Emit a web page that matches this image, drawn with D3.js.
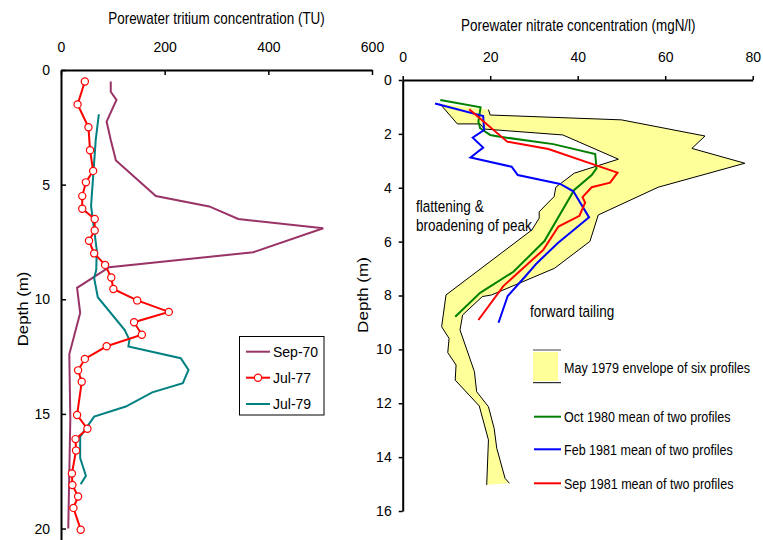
<!DOCTYPE html>
<html><head><meta charset="utf-8">
<script src="https://cdn.jsdelivr.net/npm/d3@7"></script>
<style>
body{margin:0;background:#fff;}
text{font-family:"Liberation Sans",Arial,sans-serif;fill:#000;}
</style></head>
<body>
<svg id="c" width="763" height="540"></svg>
<script>
// ---------- Left panel data: tritium (TU) vs depth (m) ----------
const tritiumTicks = [0, 200, 400, 600];
const depthTicksLeft = [0, 5, 10, 15, 20];
const sep70Depth = [0.5, 0.95, 1.3, 2.25, 3.05, 3.95, 5.5, 5.95, 6.5, 6.9, 7.95, 8.6, 9.5, 10.6, 12.4, 15.2, 20.0];
const sep70TU    = [96, 96, 107, 88, 96, 106, 183, 286, 342, 506, 371, 93, 31, 37, 16, 18, 14];
const jul77Depth = [0.5, 1.5, 2.5, 3.5, 4.4, 4.9, 5.5, 6.05, 6.5, 7.0, 7.45, 8.0, 8.5, 9.05, 9.55, 10.05, 10.55, 11.0, 11.55, 12.05, 12.6, 13.1, 13.6, 15.05, 15.65, 16.1, 16.6, 17.6, 18.1, 18.6, 19.1, 20.05];
const jul77TU    = [46, 32, 53, 56, 62, 48, 41, 41, 65, 65, 54, 64, 85, 97, 101, 147, 208, 141, 156, 88, 46, 33, 40, 31, 51, 28, 29, 21, 22, 33, 24, 38];
const jul79Depth = [1.93, 3.05, 5.93, 7.85, 8.72, 9.08, 9.91, 11.34, 11.77, 12.06, 12.57, 13.08, 13.66, 14.06, 14.68, 15.12, 15.99, 16.93, 17.7, 18.07];
const jul79TU    = [73, 67, 58, 69, 68, 64, 71, 123, 132, 130, 231, 246, 235, 176, 125, 64, 37, 37, 48, 38];
const leftSeriesNames = ["Sep-70", "Jul-77", "Jul-79"];

// ---------- Right panel data: nitrate (mgN/l) vs depth (m) ----------
const nitrateTicks = [0, 20, 40, 60, 80];
const depthTicksRight = [0, 2, 4, 6, 8, 10, 12, 14, 16];
// envelope: upper (high-concentration) edge, top to bottom
const envHighDepth = [1.1, 1.3, 1.48, 2.08, 2.54, 3.09, 3.98, 5.01, 5.99, 6.99, 7.98, 8.04, 8.72, 9.28, 10.83, 11.57, 12.13, 12.93, 13.67, 14.79, 14.97];
const envHighVal   = [19.6, 20.0, 50.0, 69.1, 66.1, 78.2, 58.4, 44.7, 42.8, 34.7, 20.3, 18.2, 13.7, 13.1, 16.4, 16.9, 19.6, 20.9, 21.5, 23.4, 24.4];
// envelope: lower (low-concentration) edge, top to bottom
const envLowDepth = [0.88, 1.63, 1.63, 1.82, 2.04, 2.94, 3.46, 3.98, 4.33, 4.89, 5.13, 5.57, 7.98, 9.16, 9.59, 10.12, 10.58, 11.14, 12.1, 13.36, 15.03];
const envLowVal   = [8.5, 12.5, 17.7, 18.6, 36.6, 49.3, 39.2, 35.0, 34.6, 31.2, 31.2, 29.5, 9.9, 8.9, 10.6, 10.3, 12.2, 12.0, 17.5, 19.6, 19.2];
const oct80Depth = [0.74, 1.01, 1.55, 1.79, 2.04, 2.1, 2.38, 2.75, 3.28, 3.53, 4.08, 5.98, 7.12, 7.9, 8.79];
const oct80Val   = [8.6, 17.8, 17.3, 17.7, 20.0, 21.9, 34.4, 44.0, 44.3, 43.2, 39.2, 32.4, 25.3, 17.7, 12.0];
const feb81Depth = [0.87, 1.34, 1.86, 2.14, 2.51, 2.88, 3.22, 3.53, 3.86, 4.13, 5.1, 6.06, 6.81, 7.24, 8.02, 9.01];
const feb81Val   = [7.4, 18.4, 18.6, 16.0, 18.4, 15.5, 24.9, 26.3, 36.0, 39.0, 42.6, 35.4, 30.6, 28.3, 24.0, 21.9];
const sep81Depth = [1.09, 2.29, 2.56, 3.44, 3.81, 3.98, 4.35, 4.55, 5.04, 5.44, 6.31, 7.65, 8.91];
const sep81Val   = [15.2, 23.9, 33.3, 49.1, 47.4, 43.2, 41.1, 41.7, 40.4, 35.6, 32.1, 23.0, 17.3];
const rightLegendLabels = ["May 1979 envelope of six profiles", "Oct 1980 mean of two profiles", "Feb 1981 mean of two profiles", "Sep 1981 mean of two profiles"];

const svg = d3.select("#c");
const zip = (ds, vs) => ds.map((d, i) => ({d: d, v: vs[i]}));
// condensed text: a group scaled horizontally, so the rendered box is the real one
function narrowText(parent, x, y, fs, str, opts) {
  opts = opts || {};
  const sx = opts.sx || 0.82;
  const rot = opts.rotate ? " rotate(-90)" : "";
  const g = parent.append("g").attr("transform", `translate(${x},${y})${rot} scale(${sx},1)`);
  const t = g.append("text").attr("x", 0).attr("y", 0).attr("font-size", fs).text(str);
  if (opts.anchor) t.attr("text-anchor", opts.anchor);
  if (opts.dy) t.attr("dy", opts.dy);
  return t;
}

// ================= LEFT PANEL =================
const xL = d3.scaleLinear().domain([0, 600]).range([61, 372]);
const yL = d3.scaleLinear().domain([0, 20.5]).range([70, 540]);
const gL = svg.append("g");

const axL = gL.append("g").attr("transform", `translate(0,${yL(0)})`)
  .call(d3.axisTop(xL).tickValues(tritiumTicks).tickSizeInner(-5).tickSizeOuter(0).tickPadding(18));
const ayL = gL.append("g").attr("transform", `translate(${xL(0)},0)`)
  .call(d3.axisLeft(yL).tickValues(depthTicksLeft).tickSizeInner(-5).tickSizeOuter(0).tickPadding(11));
[axL, ayL].forEach(a => {
  a.select(".domain").attr("stroke", "#000").attr("stroke-width", 2);
  a.selectAll(".tick line").attr("stroke", "#000").attr("stroke-width", 1.5);
  a.selectAll("text").attr("font-size", 14).attr("font-family", "Liberation Sans, Arial, sans-serif").attr("fill", "#000");
});

narrowText(gL, 216.5, 24, 16.4, "Porewater tritium concentration (TU)", {anchor: "middle"});
// vertical label: elongated along its length
narrowText(gL, 28, 309, 14, "Depth (m)", {anchor: "middle", rotate: true, sx: 1.2});

const lineL = d3.line().x(p => xL(p.v)).y(p => yL(p.d));
const sep70 = zip(sep70Depth, sep70TU), jul77 = zip(jul77Depth, jul77TU), jul79 = zip(jul79Depth, jul79TU);
const cSep70 = "#993366", cJul77 = "#ff0000", cJul79 = "#008080";
gL.append("path").datum(sep70).attr("d", lineL).attr("fill", "none").attr("stroke", cSep70).attr("stroke-width", 2);
gL.append("path").datum(jul79).attr("d", lineL).attr("fill", "none").attr("stroke", cJul79).attr("stroke-width", 2);
gL.append("path").datum(jul77).attr("d", lineL).attr("fill", "none").attr("stroke", cJul77).attr("stroke-width", 2);
gL.selectAll("circle.m").data(jul77).join("circle").attr("class", "m")
  .attr("cx", p => xL(p.v)).attr("cy", p => yL(p.d)).attr("r", 3.6)
  .attr("fill", "#fff").attr("stroke", cJul77).attr("stroke-width", 1.2);

// legend left
const lg = gL.append("g");
lg.append("rect").attr("x", 239.5).attr("y", 336.5).attr("width", 84.5).attr("height", 78.5)
  .attr("fill", "#fff").attr("stroke", "#000").attr("stroke-width", 1);
const legColors = [cSep70, cJul77, cJul79];
const legY = [351.7, 377.7, 404];
leftSeriesNames.forEach((n, i) => {
  lg.append("line").attr("x1", 246).attr("x2", 270).attr("y1", legY[i]).attr("y2", legY[i])
    .attr("stroke", legColors[i]).attr("stroke-width", 2);
  if (i === 1) lg.append("circle").attr("cx", 258).attr("cy", legY[i]).attr("r", 3.6)
    .attr("fill", "#fff").attr("stroke", cJul77).attr("stroke-width", 1.2);
  lg.append("text").attr("x", 273).attr("y", legY[i]).attr("dy", "0.36em").attr("font-size", 14).text(n);
});

// ================= RIGHT PANEL =================
const xR = d3.scaleLinear().domain([0, 80]).range([402.7, 752.7]);
const yR = d3.scaleLinear().domain([0, 16]).range([80, 511]);
const gR = svg.append("g");

// envelope
const envHigh = zip(envHighDepth, envHighVal), envLow = zip(envLowDepth, envLowVal);
const lineR = d3.line().x(p => xR(p.v)).y(p => yR(p.d));
const poly = envHigh.concat(envLow.slice().reverse());
gR.append("path").datum(poly).attr("d", lineR.curve(d3.curveLinearClosed)).attr("fill", "#ffff99").attr("stroke", "none");
lineR.curve(d3.curveLinear);
gR.append("path").datum(envHigh).attr("d", lineR).attr("fill", "none").attr("stroke", "#000").attr("stroke-width", 1);
gR.append("path").datum(envLow).attr("d", lineR).attr("fill", "none").attr("stroke", "#000").attr("stroke-width", 1);

const cOct = "#008000", cFeb = "#0000ff", cSep = "#ff0000";
gR.append("path").datum(zip(oct80Depth, oct80Val)).attr("d", lineR).attr("fill", "none").attr("stroke", cOct).attr("stroke-width", 2);
gR.append("path").datum(zip(feb81Depth, feb81Val)).attr("d", lineR).attr("fill", "none").attr("stroke", cFeb).attr("stroke-width", 2);
gR.append("path").datum(zip(sep81Depth, sep81Val)).attr("d", lineR).attr("fill", "none").attr("stroke", cSep).attr("stroke-width", 2);

const axR = gR.append("g").attr("transform", `translate(0,${yR(0)})`)
  .call(d3.axisTop(xR).tickValues(nitrateTicks).tickSizeInner(4).tickSizeOuter(0).tickPadding(14));
const ayR = gR.append("g").attr("transform", `translate(${xR(0)},0)`)
  .call(d3.axisLeft(yR).tickValues(depthTicksRight).tickSizeInner(4).tickSizeOuter(0).tickPadding(7));
[axR, ayR].forEach(a => {
  a.select(".domain").attr("stroke", "#000").attr("stroke-width", 2);
  a.selectAll(".tick line").attr("stroke", "#000").attr("stroke-width", 1.5);
  a.selectAll("text").attr("font-size", 14).attr("font-family", "Liberation Sans, Arial, sans-serif").attr("fill", "#000");
});

narrowText(gR, 578.3, 31, 16.4, "Porewater nitrate concentration (mgN/l)", {anchor: "middle"});
narrowText(gR, 368, 295, 14, "Depth (m)", {anchor: "middle", rotate: true, sx: 1.22});

narrowText(gR, 416, 212, 16.5, "flattening &");
narrowText(gR, 416, 231, 16.5, "broadening of peak");
narrowText(gR, 530, 317.3, 16.5, "forward tailing");

// legend right
const lr = gR.append("g");
lr.append("line").attr("x1", 533).attr("x2", 561).attr("y1", 350).attr("y2", 350).attr("stroke", "#808080").attr("stroke-width", 1.5);
lr.append("rect").attr("x", 533).attr("y", 352).attr("width", 25).attr("height", 29).attr("fill", "#ffff99");
lr.append("line").attr("x1", 533).attr("x2", 561).attr("y1", 382.7).attr("y2", 382.7).attr("stroke", "#000").attr("stroke-width", 1);
narrowText(lr, 564, 367.7, 15.3, rightLegendLabels[0], {dy: "0.36em"});
const rlY = [416.7, 449.3, 483.3], rlC = [cOct, cFeb, cSep];
rlY.forEach((y, i) => {
  lr.append("line").attr("x1", 534).attr("x2", 561).attr("y1", y).attr("y2", y).attr("stroke", rlC[i]).attr("stroke-width", 2);
  narrowText(lr, 564, y, 15.3, rightLegendLabels[i + 1], {dy: "0.36em"});
});
</script>
</body></html>
